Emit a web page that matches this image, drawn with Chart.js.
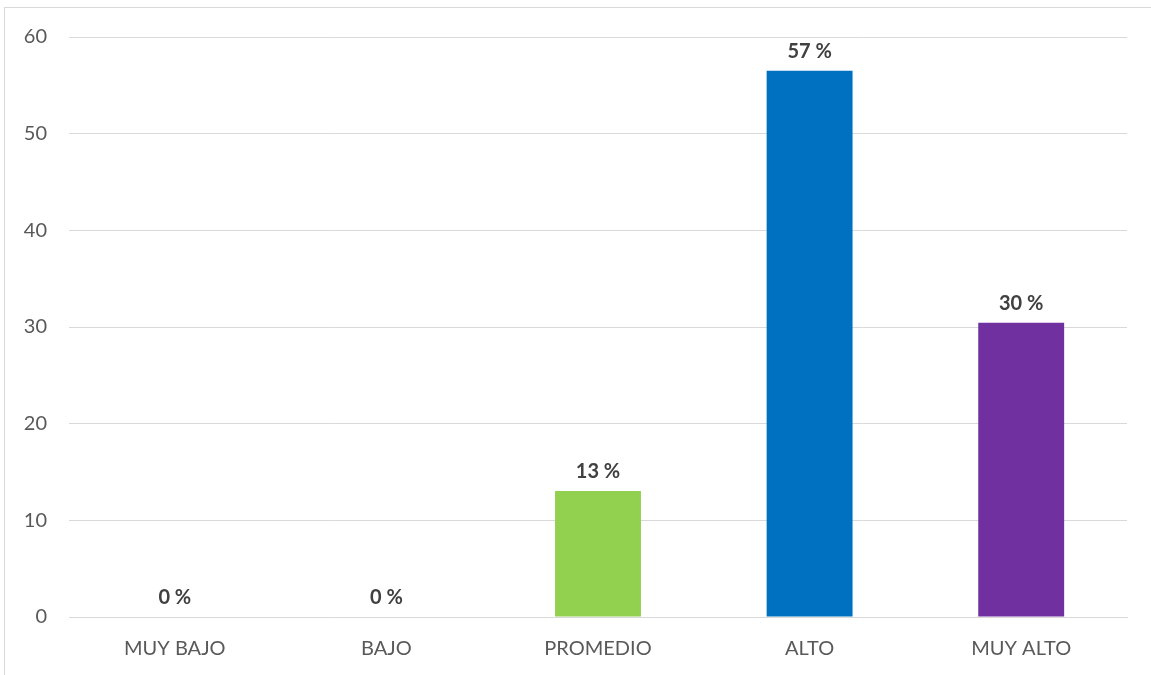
<!DOCTYPE html>
<html>
<head>
<meta charset="utf-8">
<script src="https://cdn.jsdelivr.net/npm/chart.js@4.4.1/dist/chart.umd.min.js"></script>
<style>
  html, body { margin: 0; padding: 0; background: #fff; overflow: hidden; }
  #frame { position: absolute; left: 4px; top: 7px; width: 1300px; height: 800px; border: 1.5px solid #d9d9d9; box-sizing: border-box; }
  #wrap { position: absolute; left: 0; top: 0; width: 1151px; height: 675px; }
</style>
</head>
<body>
<div id="frame"></div>
<div id="wrap"><canvas id="c" width="1151" height="675"></canvas></div>
<script>
const categories = ['MUY BAJO', 'BAJO', 'PROMEDIO', 'ALTO', 'MUY ALTO'];
const values = [0, 0, 13.04, 56.52, 30.43];
const valueLabels = ['0 %', '0 %', '13 %', '57 %', '30 %'];
const barColors = ['#92D050', '#92D050', '#92D050', '#0070C0', '#7030A0'];
const yTicks = [0, 10, 20, 30, 40, 50, 60];

const FONT = "Lato, 'Open Sans', sans-serif";

const labelPlugin = {
  id: 'valueLabels',
  afterDatasetsDraw(chart) {
    const ctx = chart.ctx;
    const meta = chart.getDatasetMeta(0);
    ctx.save();
    ctx.font = "bold 20px " + FONT;
    ctx.fillStyle = '#404040';
    ctx.textAlign = 'center';
    ctx.textBaseline = 'middle';
    meta.data.forEach((bar, i) => {
      ctx.fillText(valueLabels[i], bar.x, bar.y - 19);
    });
    ctx.restore();
  }
};

new Chart(document.getElementById('c'), {
  type: 'bar',
  data: {
    labels: categories,
    datasets: [{
      data: values,
      backgroundColor: barColors,
      borderWidth: 0,
      categoryPercentage: 1,
      barPercentage: 0.406
    }]
  },
  options: {
    responsive: false,
    animation: false,
    devicePixelRatio: 1,
    layout: { padding: { top: 37, right: 24, left: 0, bottom: 0 } },
    plugins: { legend: { display: false }, tooltip: { enabled: false } },
    scales: {
      x: {
        grid: { display: false, drawTicks: false },
        border: { display: true, color: '#d9d9d9', width: 1 },
        ticks: { color: '#595959', font: { family: FONT, size: 20 }, padding: 20, maxRotation: 0 },
        afterFit(scale) { scale.height = 675 - 617; }
      },
      y: {
        min: 0, max: 60,
        afterBuildTicks(scale) { scale.ticks = yTicks.map(v => ({ value: v })); },
        grid: { color: '#d9d9d9', lineWidth: 1, drawTicks: false },
        border: { display: false },
        ticks: { color: '#595959', font: { family: FONT, size: 20 }, padding: 22 },
        afterFit(scale) { scale.width = 69; }
      }
    }
  },
  plugins: [labelPlugin]
});
</script>
</body>
</html>
